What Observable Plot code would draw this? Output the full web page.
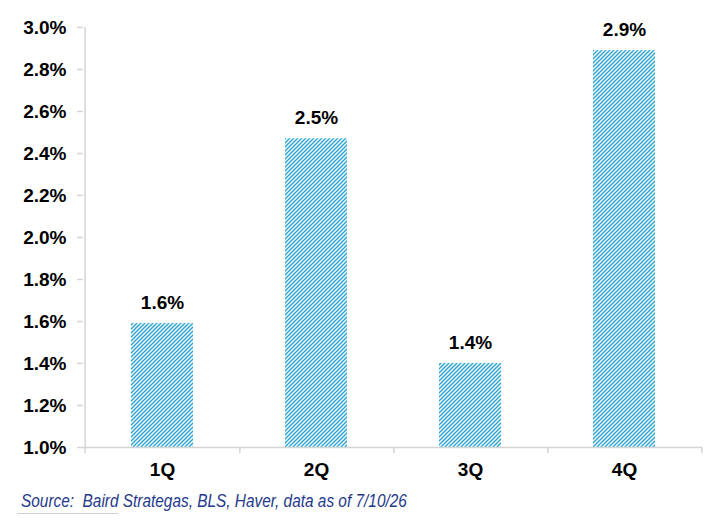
<!DOCTYPE html>
<html>
<head>
<meta charset="utf-8">
<script src="https://cdn.jsdelivr.net/npm/d3@7"></script>
<script src="https://cdn.jsdelivr.net/npm/@observablehq/plot@0.6"></script>
<style>
  html, body { margin: 0; padding: 0; background: #fff; }
  body { width: 721px; height: 531px; overflow: hidden; font-family: "Liberation Sans", Arial, sans-serif; }
  #chart svg { display: block; }
  #caption { margin-left: 21px; margin-top: 0; height: 22px; }
  #caption span { display: inline-block; transform: scaleX(0.81); transform-origin: 0 50%; font-family: "Liberation Sans", Arial, sans-serif; font-style: italic; font-size: 19px; line-height: 22px; color: #1f3a8a; white-space: pre; }
  #capline { margin-left: 17px; width: 101px; height: 0; border-top: 1px solid #d0d0d0; margin-top: 1px; }
</style>
</head>
<body>
<div id="chart"></div>
<div id="caption"><span>Source:  Baird Strategas, BLS, Haver, data as of 7/10/26</span></div>
<div id="capline"></div>
<script>
const quarters = ["1Q", "2Q", "3Q", "4Q"];
const values = [1.59, 2.47, 1.40, 2.89];
const yTicks = [1.0, 1.2, 1.4, 1.6, 1.8, 2.0, 2.2, 2.4, 2.6, 2.8, 3.0];

const data = quarters.map((q, i) => ({q, v: values[i]}));

const W = 721, H = 490, mL = 83, mR = 19;
const step = (W - mL - mR) / quarters.length;
const axisColor = "#d4d4d4";

const chart = Plot.plot({
  width: W,
  height: H,
  marginLeft: mL,
  marginRight: mR,
  marginTop: 27,
  marginBottom: 43,
  style: {fontFamily: "'Liberation Sans', Arial, sans-serif", background: "#fff", overflow: "visible"},
  x: {domain: quarters, paddingInner: 0.6, paddingOuter: 0.3},
  y: {domain: [1.0, 3.0]},
  marks: [
    Plot.barY(data, {x: "q", y1: 1.0, y2: "v", fill: "url(#hatch)"}),
    Plot.ruleY([1.0], {stroke: axisColor, strokeWidth: 1.5}),
    Plot.ruleX([quarters[0]], {x: d => d, dx: -step / 2, y1: 3.0, y2: 1.0, insetBottom: -6, stroke: axisColor, strokeWidth: 1.5}),
    Plot.ruleX(quarters, {x: d => d, dx: step / 2, y1: 1.0, y2: 1.0, insetBottom: -6, stroke: axisColor, strokeWidth: 1.5}),
    Plot.axisY({ticks: yTicks, tickFormat: d => d.toFixed(1) + "%", tickSize: 6, tickPadding: 11, stroke: axisColor, strokeWidth: 1.5, fontSize: 19, fontWeight: "bold", fill: "#000", label: null}),
    Plot.axisX({tickSize: 0, tickPadding: 15, fontSize: 19, fontWeight: "bold", fill: "#000", label: null}),
    Plot.text(data, {x: "q", y: "v", text: d => d.v.toFixed(1) + "%", dy: -21, fontSize: 19, fontWeight: "bold", fill: "#000", textAnchor: "middle"})
  ]
});

const svg = d3.select(chart);
const defs = svg.insert("defs", ":first-child");
const pat = defs.append("pattern")
  .attr("id", "hatch")
  .attr("patternUnits", "userSpaceOnUse")
  .attr("width", 4)
  .attr("height", 4);
pat.append("rect").attr("width", 4).attr("height", 4).attr("fill", "#ffffff");
pat.append("path")
  .attr("d", "M-1,1 L1,-1 M0,4 L4,0 M3,5 L5,3")
  .attr("stroke", "#2fa6d6")
  .attr("stroke-width", 1.5);

document.getElementById("chart").appendChild(chart);
</script>
</body>
</html>
